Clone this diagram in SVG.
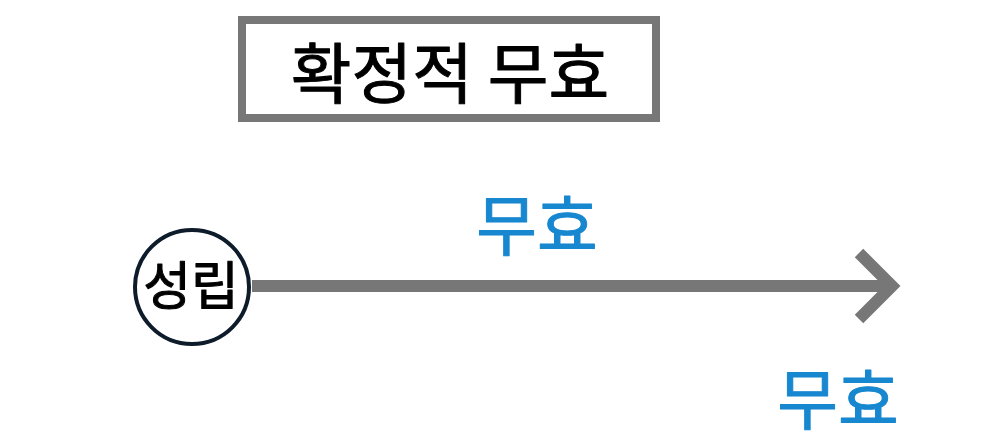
<svg xmlns="http://www.w3.org/2000/svg" width="982" height="444" viewBox="0 0 982 444">
<style>
.t{font-family:"Noto Sans CJK KR","Noto Sans",sans-serif;text-anchor:middle;font-weight:400;stroke-width:1;stroke-linejoin:round}
.k{fill:#000000;stroke:#000000}
.blue{fill:#1787d0;stroke:#1787d0}
.conn{stroke:#777777;stroke-width:12;fill:none}
</style>
<rect width="982" height="444" fill="#ffffff"/>
<g id="title">
<rect x="242" y="20" width="414" height="98" fill="#ffffff" stroke="#777777" stroke-width="8"/>
<text class="t k" x="450" y="98" font-size="66">확정적 무효</text>
</g>
<g id="connectors">
<line class="conn" x1="252" y1="286" x2="890" y2="286"/>
<polyline class="conn" points="859,253 892,286 859,319"/>
</g>
<g id="start">
<circle cx="192" cy="287" r="57" fill="#ffffff" stroke="#0d1b2a" stroke-width="4"/>
<text class="t k" x="191" y="305" font-size="52">성립</text>
</g>
<g id="label-top">
<text class="t blue" x="537" y="250" font-size="66">무효</text>
</g>
<g id="label-bottom">
<text class="t blue" x="838" y="424" font-size="66">무효</text>
</g>
</svg>
